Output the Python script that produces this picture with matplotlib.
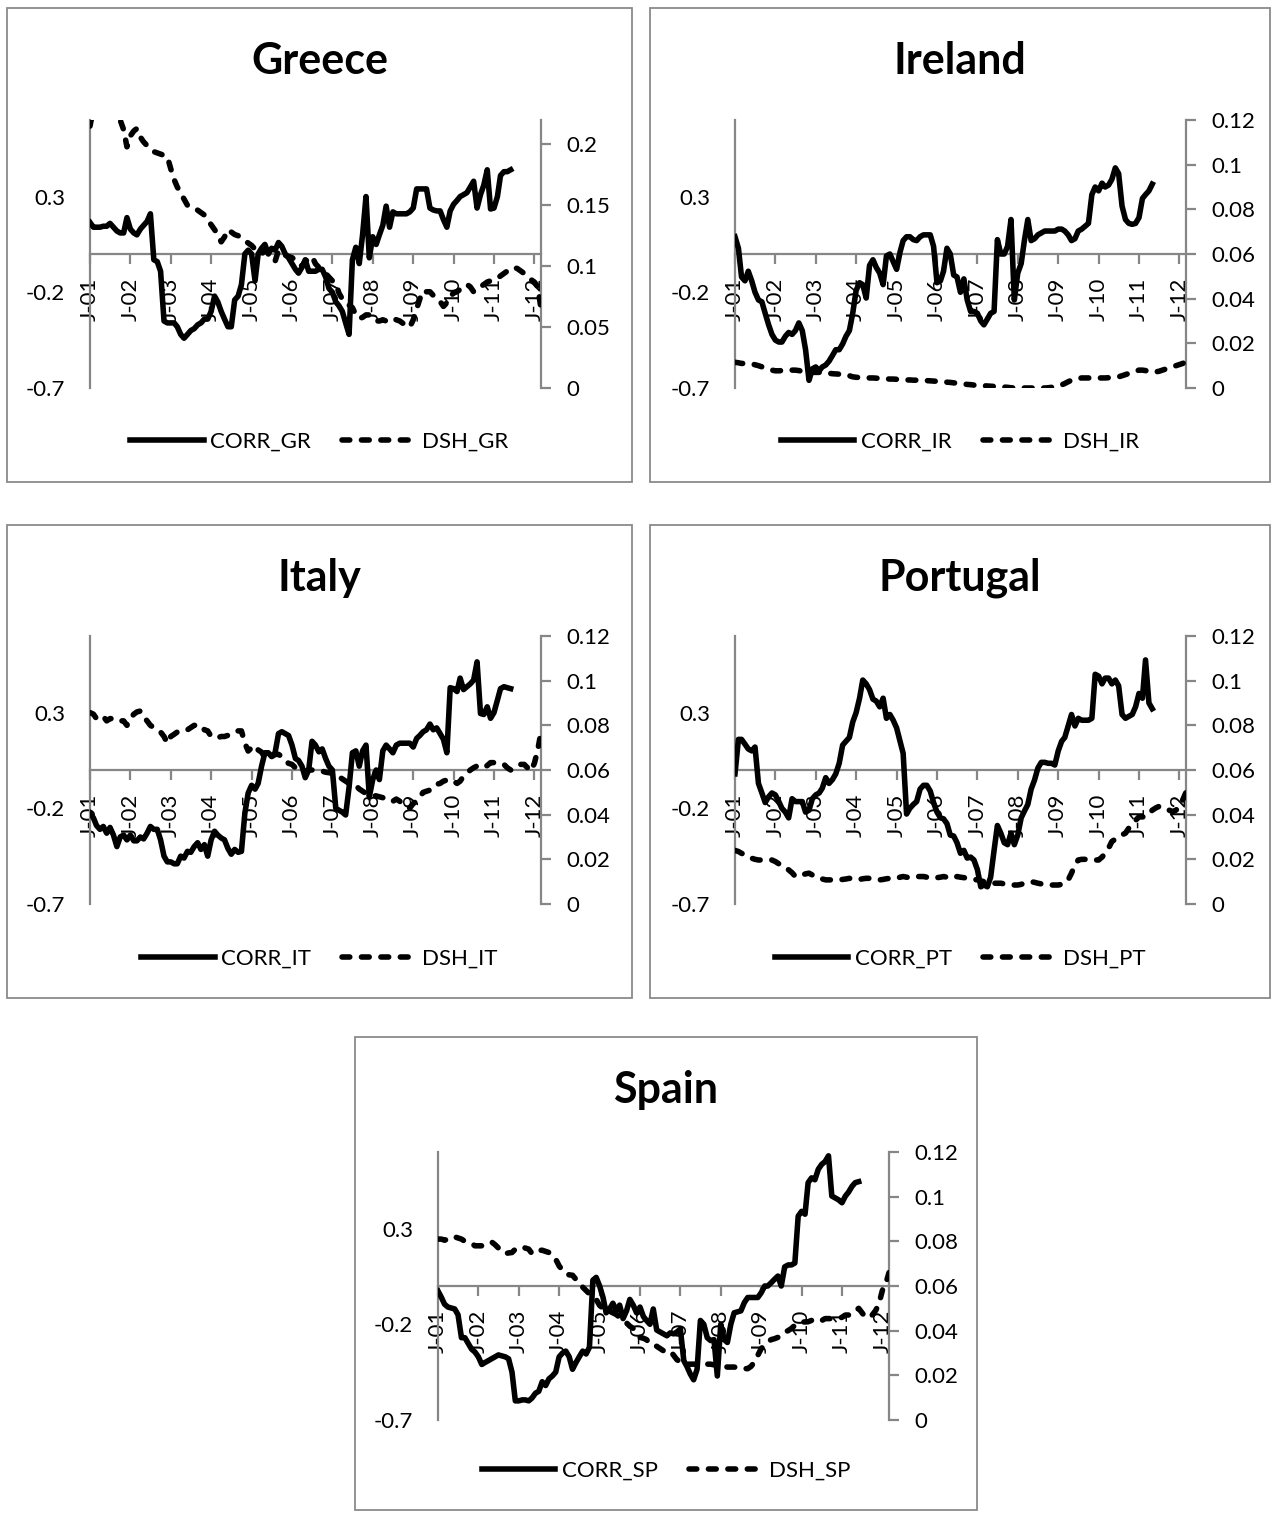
import numpy as np
import pandas as pd
import matplotlib
matplotlib.use('Agg')
import matplotlib.pyplot as plt
from matplotlib.patches import Rectangle
from matplotlib.lines import Line2D

plt.rcParams['font.family'] = ['Lato', 'DejaVu Sans']
plt.rcParams['axes.unicode_minus'] = False

W, H = 1273, 1514

# monthly categories Jan 2001 .. Mar 2012
months = pd.date_range('2001-01-01', '2012-03-01', freq='MS')
year_ticks = pd.date_range('2001-01-01', '2012-01-01', freq='YS')
year_labels = ['J-01', 'J-02', 'J-03', 'J-04', 'J-05', 'J-06',
               'J-07', 'J-08', 'J-09', 'J-10', 'J-11', 'J-12']

corr_ticks = [-0.7, -0.2, 0.3]

# ---- Greece ----
corr_gr = [
    0.165, 0.14, 0.14, 0.14, 0.145, 0.145, 0.16, 0.14, 0.12, 0.11, 0.11, 0.19,
    0.13, 0.11, 0.10, 0.13, 0.15, 0.17, 0.21, -0.03, -0.04, -0.09, -0.35, -0.36,
    -0.36, -0.36, -0.38, -0.42, -0.44, -0.42, -0.40, -0.39, -0.37, -0.36, -0.34, -0.34,
    -0.30, -0.22, -0.25, -0.30, -0.34, -0.38, -0.38, -0.24, -0.22, -0.16, 0.0, 0.02,
    0.0, -0.14, 0.0, 0.03, 0.05, 0.0, 0.03, 0.02, 0.06, 0.04, 0.0, -0.02,
    -0.05, -0.08, -0.10, -0.07, -0.03, -0.09, -0.09, -0.09, -0.08, -0.08, -0.12, -0.18,
    -0.20, -0.25, -0.27, -0.30, -0.36, -0.42, -0.03, 0.035, -0.05, 0.10, 0.30, -0.02,
    0.09, 0.05, 0.10, 0.15, 0.25, 0.14, 0.22, 0.21, 0.21, 0.21, 0.21, 0.22,
    0.24, 0.34, 0.34, 0.34, 0.34, 0.24, 0.23, 0.225, 0.225, 0.18, 0.14, 0.225,
    0.26, 0.28, 0.30, 0.31, 0.32, 0.35, 0.38, 0.24, 0.31, 0.36, 0.44, 0.235,
    0.24, 0.30, 0.41, 0.43, 0.43, 0.44]
dsh_gr = [
    0.215, 0.23, 0.24, 0.245, 0.245, 0.24, 0.235, 0.23, 0.225, 0.22, 0.212, 0.198,
    0.207, 0.211, 0.213, 0.206, 0.202, 0.199, 0.196, 0.194, 0.193, 0.192, 0.191, 0.19,
    0.18, 0.171, 0.165, 0.16, 0.155, 0.15, 0.149, 0.148, 0.146, 0.144, 0.142, 0.138,
    0.134, 0.13, 0.126, 0.12, 0.124, 0.13, 0.128, 0.126, 0.125, 0.123, 0.121, 0.119,
    0.117, 0.114, 0.112, 0.11, 0.113, 0.111, 0.108, 0.104, 0.113, 0.111, 0.109, 0.108,
    0.107, 0.105, 0.102, 0.1, 0.104, 0.106, 0.108, 0.102, 0.099, 0.097, 0.094, 0.091,
    0.088, 0.086, 0.078, 0.073, 0.07, 0.068, 0.066, 0.06, 0.057, 0.058, 0.06, 0.06,
    0.057, 0.055, 0.055, 0.056, 0.055, 0.057, 0.057, 0.056, 0.055, 0.053, 0.052, 0.05,
    0.056, 0.065, 0.073, 0.08, 0.079, 0.079, 0.076, 0.073, 0.071, 0.067, 0.07, 0.075,
    0.078, 0.079, 0.081, 0.083, 0.085, 0.083, 0.079, 0.081, 0.083, 0.085, 0.087, 0.088,
    0.089, 0.09, 0.092, 0.094, 0.096, 0.098, 0.099, 0.098, 0.096, 0.094, 0.092, 0.089,
    0.087, 0.083, 0.065]

# ---- Ireland ----
corr_ir = [
    0.09, 0.03, -0.12, -0.14, -0.09, -0.14, -0.20, -0.24, -0.25, -0.31, -0.37, -0.42,
    -0.45, -0.46, -0.46, -0.43, -0.41, -0.42, -0.40, -0.36, -0.40, -0.50, -0.66, -0.60,
    -0.59, -0.61, -0.59, -0.58, -0.56, -0.53, -0.50, -0.50, -0.47, -0.43, -0.40, -0.31,
    -0.19, -0.15, -0.16, -0.23, -0.06, -0.03, -0.07, -0.10, -0.16, -0.01, 0.0, -0.04,
    -0.08, 0.01, 0.07, 0.09, 0.09, 0.075, 0.07, 0.09, 0.10, 0.10, 0.10, 0.04,
    -0.15, -0.14, -0.09, 0.03, 0.0, -0.11, -0.12, -0.20, -0.13, -0.24, -0.30, -0.30,
    -0.31, -0.35, -0.37, -0.34, -0.31, -0.30, 0.075, 0.0, 0.0, 0.04, 0.18, -0.24,
    -0.10, -0.05, 0.07, 0.18, 0.07, 0.08, 0.10, 0.11, 0.12, 0.12, 0.12, 0.12,
    0.13, 0.13, 0.12, 0.10, 0.07, 0.08, 0.12, 0.13, 0.145, 0.16, 0.31, 0.35,
    0.33, 0.37, 0.35, 0.36, 0.39, 0.45, 0.42, 0.25, 0.18, 0.16, 0.155, 0.16,
    0.19, 0.29, 0.31, 0.33, 0.365]
dsh_ir = [
    0.0115, 0.0113, 0.011, 0.011, 0.011, 0.0108, 0.0104, 0.010, 0.0095, 0.009, 0.0085, 0.008,
    0.0077, 0.0077, 0.0078, 0.0078, 0.008, 0.008, 0.008, 0.0078, 0.0075, 0.0072, 0.007, 0.007,
    0.007, 0.007, 0.007, 0.0068, 0.0066, 0.0064, 0.0063, 0.0062, 0.0061, 0.006, 0.0055, 0.005,
    0.0048, 0.0047, 0.0046, 0.0046, 0.0045, 0.0045, 0.0044, 0.0043, 0.0042, 0.0041, 0.004, 0.004,
    0.0039, 0.0038, 0.0037, 0.0036, 0.0036, 0.0035, 0.0035, 0.0034, 0.0034, 0.0033, 0.0032, 0.0031,
    0.003, 0.0029, 0.0028, 0.0026, 0.0025, 0.0023, 0.0022, 0.002, 0.0018, 0.0016, 0.0015, 0.0013,
    0.0012, 0.001, 0.001, 0.0009, 0.0008, 0.0007, 0.0006, 0.0005, 0.0004, 0.0003, 0.0001, 0.0,
    0.0, 0.0, 0.0, 0.0, 0.0, 0.0, 0.0, 0.0, 0.0, 0.0001, 0.0003, 0.0006,
    0.001, 0.0014, 0.002, 0.0028, 0.0035, 0.004, 0.0043, 0.0045, 0.0045, 0.0045, 0.0045, 0.0045,
    0.0045, 0.0045, 0.0045, 0.0046, 0.0047, 0.0048, 0.005, 0.0055, 0.006, 0.0065, 0.007, 0.0075,
    0.008, 0.008, 0.0078, 0.0075, 0.007, 0.0072, 0.0075, 0.008, 0.0085, 0.009, 0.0095, 0.01,
    0.0105, 0.011, 0.012]

# ---- Italy ----
corr_it = [
    -0.225, -0.25, -0.29, -0.31, -0.295, -0.33, -0.30, -0.34, -0.40, -0.35, -0.34, -0.365,
    -0.34, -0.37, -0.37, -0.35, -0.36, -0.33, -0.295, -0.31, -0.31, -0.365, -0.45, -0.48,
    -0.48, -0.49, -0.49, -0.45, -0.46, -0.425, -0.43, -0.40, -0.38, -0.415, -0.39, -0.45,
    -0.365, -0.32, -0.34, -0.355, -0.365, -0.41, -0.44, -0.415, -0.43, -0.425, -0.225, -0.12,
    -0.08, -0.10, -0.07, 0.02, 0.09, 0.09, 0.07, 0.09, 0.19, 0.20, 0.19, 0.18,
    0.13, 0.06, 0.05, 0.02, -0.04, 0.0, 0.15, 0.13, 0.095, 0.11, 0.06, 0.02,
    0.0, -0.20, -0.21, -0.22, -0.235, -0.09, 0.09, 0.10, 0.02, 0.10, 0.13, -0.14,
    -0.05, 0.0, -0.05, 0.10, 0.13, 0.11, 0.09, 0.13, 0.14, 0.14, 0.14, 0.14,
    0.12, 0.165, 0.18, 0.20, 0.21, 0.24, 0.21, 0.22, 0.19, 0.16, 0.09, 0.43,
    0.425, 0.41, 0.48, 0.42, 0.435, 0.45, 0.47, 0.565, 0.295, 0.29, 0.33, 0.27,
    0.30, 0.365, 0.425, 0.435, 0.43, 0.425]
dsh_it = [
    0.0857, 0.085, 0.083, 0.083, 0.084, 0.082, 0.083, 0.083, 0.083, 0.082, 0.082, 0.080,
    0.083, 0.085, 0.086, 0.0864, 0.084, 0.082, 0.080, 0.079, 0.078, 0.077, 0.075, 0.072,
    0.075, 0.076, 0.077, 0.077, 0.0775, 0.078, 0.079, 0.080, 0.080, 0.080, 0.078, 0.0775,
    0.075, 0.0745, 0.0745, 0.075, 0.075, 0.0755, 0.076, 0.077, 0.0775, 0.0775, 0.072, 0.0685,
    0.070, 0.071, 0.069, 0.068, 0.0655, 0.065, 0.066, 0.067, 0.067, 0.066, 0.064, 0.063,
    0.0625, 0.061, 0.060, 0.059, 0.0595, 0.060, 0.060, 0.0598, 0.0595, 0.0595, 0.059, 0.0588,
    0.0585, 0.058, 0.057, 0.056, 0.055, 0.054, 0.0535, 0.053, 0.0515, 0.0505, 0.0495, 0.049,
    0.0485, 0.0484, 0.048, 0.0476, 0.047, 0.046, 0.046, 0.047, 0.046, 0.0446, 0.044, 0.043,
    0.045, 0.046, 0.048, 0.050, 0.0505, 0.051, 0.052, 0.0536, 0.054, 0.055, 0.0555, 0.0558,
    0.055, 0.054, 0.055, 0.0573, 0.0585, 0.060, 0.061, 0.0618, 0.0615, 0.061, 0.062, 0.0633,
    0.0633, 0.0633, 0.063, 0.0625, 0.061, 0.060, 0.061, 0.0618, 0.0625, 0.0625, 0.061, 0.0595,
    0.063, 0.069, 0.077]

# ---- Portugal ----
corr_pt = [
    -0.02, 0.16, 0.16, 0.135, 0.11, 0.10, 0.12, -0.07, -0.12, -0.17, -0.14, -0.12,
    -0.13, -0.165, -0.20, -0.22, -0.25, -0.15, -0.165, -0.165, -0.165, -0.22, -0.21, -0.15,
    -0.13, -0.12, -0.095, -0.04, -0.07, -0.05, -0.02, 0.035, 0.13, 0.15, 0.17, 0.25,
    0.30, 0.375, 0.47, 0.45, 0.42, 0.37, 0.36, 0.33, 0.375, 0.27, 0.29, 0.26,
    0.22, 0.15, 0.087, -0.23, -0.20, -0.18, -0.165, -0.10, -0.08, -0.08, -0.11, -0.17,
    -0.22, -0.25, -0.255, -0.28, -0.34, -0.345, -0.38, -0.435, -0.42, -0.46, -0.455, -0.47,
    -0.52, -0.61, -0.60, -0.61, -0.56, -0.42, -0.29, -0.33, -0.38, -0.39, -0.33, -0.39,
    -0.34, -0.25, -0.215, -0.18, -0.10, -0.052, 0.01, 0.04, 0.04, 0.035, 0.035, 0.026,
    0.10, 0.15, 0.17, 0.23, 0.29, 0.23, 0.27, 0.26, 0.26, 0.26, 0.27, 0.50,
    0.49, 0.45, 0.48, 0.48, 0.45, 0.47, 0.44, 0.29, 0.27, 0.28, 0.29, 0.33,
    0.40, 0.375, 0.575, 0.35, 0.32]
dsh_pt = [
    0.024, 0.0235, 0.0227, 0.022, 0.021, 0.0205, 0.020, 0.0197, 0.0197, 0.0197, 0.0197, 0.0197,
    0.019, 0.018, 0.0175, 0.0165, 0.0153, 0.014, 0.0123, 0.0125, 0.013, 0.0135, 0.0138, 0.013,
    0.012, 0.0115, 0.0112, 0.0108, 0.0108, 0.0108, 0.0108, 0.0108, 0.011, 0.0112, 0.0115, 0.0112,
    0.0108, 0.011, 0.0113, 0.0115, 0.0115, 0.0113, 0.0110, 0.0108, 0.011, 0.0113, 0.0115, 0.0115,
    0.0115, 0.012, 0.0123, 0.012, 0.0118, 0.012, 0.0123, 0.0123, 0.0123, 0.012, 0.0118, 0.0115,
    0.0118, 0.012, 0.0123, 0.012, 0.0115, 0.0118, 0.0123, 0.012, 0.0118, 0.0115, 0.0112, 0.011,
    0.0108, 0.0104, 0.01, 0.0097, 0.0093, 0.0093, 0.0093, 0.0093, 0.009, 0.0087, 0.0085, 0.0085,
    0.0085, 0.0088, 0.0093, 0.0097, 0.01, 0.0097, 0.0093, 0.009, 0.0087, 0.0085, 0.0085, 0.0085,
    0.0085, 0.0088, 0.0093, 0.0108, 0.0138, 0.0175, 0.0197, 0.020, 0.020, 0.020, 0.0197, 0.0197,
    0.0197, 0.021, 0.0227, 0.025, 0.028, 0.029, 0.030, 0.031, 0.0317, 0.034, 0.036, 0.0375,
    0.039, 0.039, 0.039, 0.0405, 0.042, 0.043, 0.0437, 0.0435, 0.043, 0.042, 0.0414, 0.042,
    0.0437, 0.0467, 0.05]

# ---- Spain ----
corr_sp = [
    -0.026, -0.06, -0.095, -0.11, -0.115, -0.12, -0.15, -0.27, -0.27, -0.30, -0.33, -0.345,
    -0.37, -0.41, -0.40, -0.39, -0.38, -0.37, -0.36, -0.365, -0.37, -0.38, -0.45, -0.60,
    -0.60, -0.595, -0.595, -0.60, -0.585, -0.56, -0.55, -0.50, -0.52, -0.485, -0.47, -0.45,
    -0.37, -0.35, -0.34, -0.37, -0.435, -0.40, -0.37, -0.34, -0.355, -0.32, 0.03, 0.045,
    0.0, -0.06, -0.14, -0.12, -0.09, -0.13, -0.10, -0.17, -0.13, -0.07, -0.10, -0.14,
    -0.11, -0.16, -0.18, -0.20, -0.12, -0.23, -0.24, -0.25, -0.26, -0.245, -0.25, -0.24,
    -0.225, -0.39, -0.42, -0.46, -0.49, -0.435, -0.18, -0.20, -0.27, -0.285, -0.28, -0.47,
    -0.20, -0.28, -0.295, -0.20, -0.14, -0.135, -0.13, -0.087, -0.06, -0.06, -0.06, -0.06,
    -0.035, 0.0, 0.0, 0.017, 0.035, 0.052, 0.0, 0.10, 0.11, 0.11, 0.12, 0.365,
    0.39, 0.375, 0.54, 0.565, 0.555, 0.61, 0.635, 0.65, 0.68, 0.47, 0.46, 0.45,
    0.435, 0.47, 0.49, 0.52, 0.54, 0.545]
dsh_sp = [
    0.081, 0.081, 0.0805, 0.081, 0.082, 0.082, 0.0815, 0.081, 0.080, 0.0795, 0.079, 0.078,
    0.078, 0.078, 0.0785, 0.079, 0.0797, 0.0785, 0.077, 0.0755, 0.0745, 0.0748, 0.075, 0.0765,
    0.077, 0.0775, 0.077, 0.0765, 0.0745, 0.0755, 0.076, 0.076, 0.0755, 0.075, 0.074, 0.072,
    0.069, 0.067, 0.0655, 0.065, 0.0648, 0.063, 0.061, 0.0595, 0.058, 0.0565, 0.0555, 0.054,
    0.0513, 0.050, 0.049, 0.0486, 0.048, 0.0472, 0.046, 0.045, 0.0435, 0.042, 0.041, 0.0395,
    0.037, 0.0366, 0.036, 0.034, 0.0336, 0.033, 0.032, 0.031, 0.031, 0.031, 0.029, 0.027,
    0.026, 0.025, 0.025, 0.025, 0.025, 0.025, 0.025, 0.025, 0.025, 0.025, 0.0247, 0.0245,
    0.0245, 0.024, 0.0237, 0.0237, 0.0237, 0.0235, 0.023, 0.023, 0.023, 0.024, 0.026, 0.029,
    0.032, 0.0334, 0.035, 0.036, 0.0364, 0.037, 0.038, 0.0394, 0.040, 0.041, 0.0424, 0.0435,
    0.0439, 0.0439, 0.044, 0.0446, 0.0443, 0.0439, 0.0445, 0.0454, 0.0454, 0.0454, 0.0454, 0.0454,
    0.046, 0.047, 0.047, 0.0476, 0.049, 0.05, 0.048, 0.046, 0.046, 0.047, 0.049, 0.052,
    0.058, 0.061, 0.066]

# title, code, corr, dsh, right-axis max, right ticks, box (px), plot area (px)
panels = [
    ('Greece', 'GR', corr_gr, dsh_gr, 0.22, [0, 0.05, 0.1, 0.15, 0.2],
     (7, 8, 632, 482), (90, 120, 541, 388)),
    ('Ireland', 'IR', corr_ir, dsh_ir, 0.12, [0, 0.02, 0.04, 0.06, 0.08, 0.1, 0.12],
     (650, 8, 1270, 482), (735, 120, 1186, 388)),
    ('Italy', 'IT', corr_it, dsh_it, 0.12, [0, 0.02, 0.04, 0.06, 0.08, 0.1, 0.12],
     (7, 525, 632, 998), (90, 636, 541, 904)),
    ('Portugal', 'PT', corr_pt, dsh_pt, 0.12, [0, 0.02, 0.04, 0.06, 0.08, 0.1, 0.12],
     (650, 525, 1270, 998), (735, 636, 1186, 904)),
    ('Spain', 'SP', corr_sp, dsh_sp, 0.12, [0, 0.02, 0.04, 0.06, 0.08, 0.1, 0.12],
     (355, 1037, 977, 1510), (438, 1152, 889, 1420)),
]

GRAY = '#868686'
LW = 4.0
DASH = (1.4, 2.1)
FS = 16


def frect(x0, y0, x1, y1):
    return [x0 / W, 1 - y1 / H, (x1 - x0) / W, (y1 - y0) / H]


fig = plt.figure(figsize=(W / 100, H / 100), dpi=100)

for name, code, corr, dsh, rmax, rticks, box, area in panels:
    bx0, by0, bx1, by1 = box
    fig.add_artist(Rectangle((bx0 / W, 1 - by1 / H), (bx1 - bx0) / W, (by1 - by0) / H,
                             transform=fig.transFigure, fill=False,
                             edgecolor='#8a8a8a', lw=1.3))
    cx = (bx0 + bx1) / 2
    fig.text(cx / W, 1 - (by0 + 53) / H, name, ha='center', va='center',
             fontsize=31, fontweight='bold')

    ax = fig.add_axes(frect(*area))
    ax.plot(months[:len(corr)], corr, color='black', lw=LW,
            solid_joinstyle='round', zorder=3)
    ax.set_xlim(months[0], months[-1])
    ax.set_ylim(-0.7, 0.7)
    ax.set_yticks(corr_ticks)
    ax.set_yticklabels([f'{v:g}' for v in corr_ticks])
    ax.set_xticks(year_ticks)
    ax.set_xticklabels(year_labels)
    ax.patch.set_visible(False)
    for s in ['top', 'right']:
        ax.spines[s].set_visible(False)
    ax.spines['bottom'].set_position(('data', 0))
    for s in ['bottom', 'left']:
        ax.spines[s].set_color(GRAY)
        ax.spines[s].set_linewidth(1.6)
    ax.tick_params(axis='y', length=0, pad=18, labelsize=FS)
    ax.tick_params(axis='x', direction='out', length=7, width=1.6, color=GRAY,
                   pad=10, labelsize=FS, labelrotation=90)

    ax2 = ax.twinx()
    ax2.plot(months[:len(dsh)], dsh, color='black', lw=LW, dashes=DASH,
             dash_capstyle='round', zorder=3)
    ax2.set_xlim(months[0], months[-1])
    ax2.set_ylim(0, rmax)
    ax2.set_yticks(rticks)
    ax2.set_yticklabels([f'{v:g}' for v in rticks])
    for s in ['top', 'left', 'bottom']:
        ax2.spines[s].set_visible(False)
    ax2.spines['right'].set_color(GRAY)
    ax2.spines['right'].set_linewidth(1.6)
    ax2.tick_params(axis='y', direction='out', length=7, width=1.6, color=GRAY,
                    pad=11, labelsize=FS)

    handles = [Line2D([], [], color='black', lw=LW),
               Line2D([], [], color='black', lw=LW, dashes=DASH, dash_capstyle='round')]
    fig.legend(handles, ['CORR_' + code, 'DSH_' + code], loc='center',
               bbox_to_anchor=(cx / W, 1 - (by0 + 434) / H), ncol=2, frameon=False,
               fontsize=FS, handlelength=3.3, handletextpad=0.3, columnspacing=1.4)

fig.savefig('out.png', dpi=100)
